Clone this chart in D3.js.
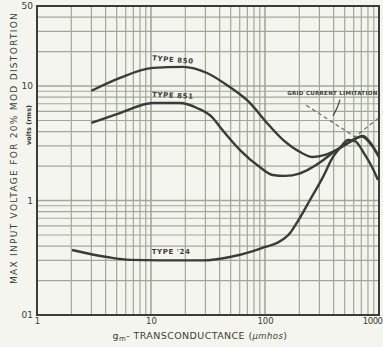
<!DOCTYPE html>
<html>
<head>
<meta charset="utf-8">
<script src="https://cdn.jsdelivr.net/npm/d3@7"></script>
<style>
  html, body { margin: 0; padding: 0; background: #f5f5ef; }
  text { font-family: "DejaVu Sans", sans-serif; fill: #3a3d35; }
</style>
</head>
<body>
<div id="chart"></div>
<script>
// --------------- Data ---------------
const GM_850 = [3, 5.35, 10.4, 19.1, 31, 49, 74, 104, 144, 203, 264, 336, 455, 615, 724, 868, 1000];
const V_850 = [9.1, 11.8, 14.4, 14.7, 13.0, 9.8, 7.1, 4.76, 3.38, 2.65, 2.4, 2.5, 2.88, 3.44, 3.67, 3.05, 2.4];

const GM_851 = [3, 5.35, 10.4, 17.9, 25.3, 34.9, 40.3, 60.4, 90, 117, 150, 200, 248, 323, 395, 535, 709, 868, 1000];
const V_851 = [4.76, 5.81, 7.1, 7.1, 6.43, 5.26, 4.39, 2.76, 1.96, 1.67, 1.64, 1.72, 1.9, 2.25, 2.62, 3.2, 3.62, 3.0, 2.4];

const GM_24 = [2.03, 4.11, 6.54, 12, 28.5, 49.3, 78.5, 100, 127, 166, 190, 248, 323, 395, 455, 535, 615, 754, 868, 980];
const V_24 = [0.37, 0.321, 0.303, 0.3, 0.3, 0.321, 0.362, 0.393, 0.425, 0.52, 0.637, 1.01, 1.61, 2.4, 2.88, 3.38, 3.3, 2.5, 1.96, 1.51];

// grid current limitation (dashed) and its pointer
const GM_LIMIT = [230, 615, 1000];
const V_LIMIT = [6.8, 3.6, 5.3];
const GM_POINTER = [455, 430, 395];
const V_POINTER = [7.6, 6.4, 5.5];

const X_TICKS = [1, 10, 100, 1000];
const X_TICK_LABELS = ["1", "10", "100", "1000"];
const Y_TICKS = [0.1, 1, 10, 50];
const Y_TICK_LABELS = ["01", "1", "10", "50"];

// --------------- Constants ---------------
const WIDTH = 383;
const HEIGHT = 347;
const PLOT = { left: 37, right: 379, top: 6, bottom: 315 };
const INK = "#3a3d35";
const GRID = "#a3a79b";

const svg = d3
  .select("#chart")
  .append("svg")
  .attr("width", WIDTH)
  .attr("height", HEIGHT);

svg.append("rect").attr("width", WIDTH).attr("height", HEIGHT).attr("fill", "#f5f5ef");

const X_SCALE = d3.scaleLog().domain([1, 1000]).range([PLOT.left, PLOT.right]);
const Y_SCALE = d3.scaleLog().domain([0.1, 50]).range([PLOT.bottom, PLOT.top]);

// log grid
const xGrid = [];
for (let d = 1; d < 1000; d *= 10) for (let k = 1; k < 10; k++) xGrid.push(d * k);
const yGrid = [];
for (let d = 0.1; d < 50; d *= 10) for (let k = 1; k < 10; k++) if (d * k <= 50) yGrid.push(d * k);

const grid = svg.append("g").attr("id", "grid");
grid
  .selectAll("line.vx")
  .data(xGrid)
  .enter()
  .append("line")
  .attr("x1", (d) => X_SCALE(d))
  .attr("x2", (d) => X_SCALE(d))
  .attr("y1", PLOT.top)
  .attr("y2", PLOT.bottom)
  .attr("stroke", GRID)
  .attr("stroke-width", (d) => ([1, 10, 100].includes(d) ? 1.6 : 1.2));

grid
  .selectAll("line.hy")
  .data(yGrid)
  .enter()
  .append("line")
  .attr("x1", PLOT.left)
  .attr("x2", PLOT.right)
  .attr("y1", (d) => Y_SCALE(d))
  .attr("y2", (d) => Y_SCALE(d))
  .attr("stroke", GRID)
  .attr("stroke-width", (d) => ([0.1, 1, 10].includes(d) ? 1.6 : 1.2));

// frame
svg
  .append("rect")
  .attr("x", PLOT.left)
  .attr("y", PLOT.top)
  .attr("width", PLOT.right - PLOT.left)
  .attr("height", PLOT.bottom - PLOT.top)
  .attr("fill", "none")
  .attr("stroke", INK)
  .attr("stroke-width", 2);

// axes: only tick labels, no domain/tick marks
const xAxis = svg
  .append("g")
  .attr("transform", `translate(0,${PLOT.bottom})`)
  .call(
    d3.axisBottom(X_SCALE).tickValues(X_TICKS).tickSize(0).tickPadding(3)
      .tickFormat((d, i) => X_TICK_LABELS[i])
  );
xAxis.select(".domain").remove();
xAxis.selectAll("text").attr("font-size", "8.5px").attr("fill", INK);
// last label sits at the right edge: keep it inside the page
xAxis
  .selectAll("text")
  .filter((d) => d === 1000)
  .attr("text-anchor", "end")
  .attr("x", WIDTH - PLOT.right - 1)
  .attr("letter-spacing", "-0.5px");

const yAxis = svg
  .append("g")
  .attr("transform", `translate(${PLOT.left},0)`)
  .call(
    d3.axisLeft(Y_SCALE).tickValues(Y_TICKS).tickSize(0).tickPadding(4)
      .tickFormat((d, i) => Y_TICK_LABELS[i])
  );
yAxis.select(".domain").remove();
yAxis.selectAll("text").attr("font-size", "9px").attr("fill", INK);

// curves
const line = d3
  .line()
  .x((d) => X_SCALE(d[0]))
  .y((d) => Y_SCALE(d[1]))
  .curve(d3.curveMonotoneX);

const series = [
  [GM_850, V_850],
  [GM_851, V_851],
  [GM_24, V_24],
];

const curves = svg.append("g").attr("id", "curves");
curves
  .selectAll("path")
  .data(series)
  .enter()
  .append("path")
  .attr("d", ([xs, ys]) => line(xs.map((x, i) => [x, ys[i]])))
  .attr("fill", "none")
  .attr("stroke", INK)
  .attr("stroke-width", 2.4)
  .attr("stroke-linejoin", "round");

// grid current limitation
const straight = d3.line().x((d) => X_SCALE(d[0])).y((d) => Y_SCALE(d[1]));
svg
  .append("path")
  .attr("d", straight(GM_LIMIT.map((x, i) => [x, V_LIMIT[i]])))
  .attr("fill", "none")
  .attr("stroke", "#6a6d63")
  .attr("stroke-width", 1.2)
  .attr("stroke-dasharray", "4,3");

svg
  .append("path")
  .attr("d", line.curve(d3.curveBasis)(GM_POINTER.map((x, i) => [x, V_POINTER[i]])))
  .attr("fill", "none")
  .attr("stroke", INK)
  .attr("stroke-width", 1.2);

// labels
const labels = [
  { text: "TYPE 850", x: 15.5, y: 16.2, rot: 5 },
  { text: "TYPE 851", x: 15.5, y: 7.9, rot: 3 },
  { text: "TYPE '24", x: 15.0, y: 0.34, rot: 0 },
];
svg
  .selectAll("text.curve-label")
  .data(labels)
  .enter()
  .append("text")
  .attr("class", "curve-label")
  .attr("transform", (d) => `translate(${X_SCALE(d.x)},${Y_SCALE(d.y)}) rotate(${d.rot})`)
  .attr("text-anchor", "middle")
  .attr("font-size", "7px")
  .attr("font-weight", "bold")
  .attr("letter-spacing", "0.6px")
  .text((d) => d.text);

svg
  .append("text")
  .attr("x", X_SCALE(390))
  .attr("y", Y_SCALE(8.4))
  .attr("text-anchor", "middle")
  .attr("font-size", "5.5px")
  .attr("font-weight", "bold")
  .attr("letter-spacing", "0.3px")
  .text("GRID CURRENT LIMITATION");

// axis titles
svg
  .append("text")
  .attr("transform", `translate(17,148) rotate(-90)`)
  .attr("text-anchor", "middle")
  .attr("font-size", "9px")
  .attr("letter-spacing", "1.3px")
  .text("MAX INPUT VOLTAGE FOR 20% MOD DISTORTION");

svg
  .append("text")
  .attr("transform", `translate(31,125) rotate(-90)`)
  .attr("text-anchor", "middle")
  .attr("font-size", "6.5px")
  .attr("font-weight", "bold")
  .text("volts (rms)");

const xTitle = svg
  .append("text")
  .attr("x", 200)
  .attr("y", 339)
  .attr("text-anchor", "middle")
  .attr("font-size", "9.5px")
  .attr("letter-spacing", "0.4px");
xTitle.append("tspan").text("g");
xTitle.append("tspan").attr("dy", 2).attr("font-size", "7px").text("m");
xTitle.append("tspan").attr("dy", -2).text("- TRANSCONDUCTANCE (");
xTitle.append("tspan").attr("font-style", "italic").attr("font-size", "8.5px").text("μmhos");
xTitle.append("tspan").text(")");
</script>
</body>
</html>
